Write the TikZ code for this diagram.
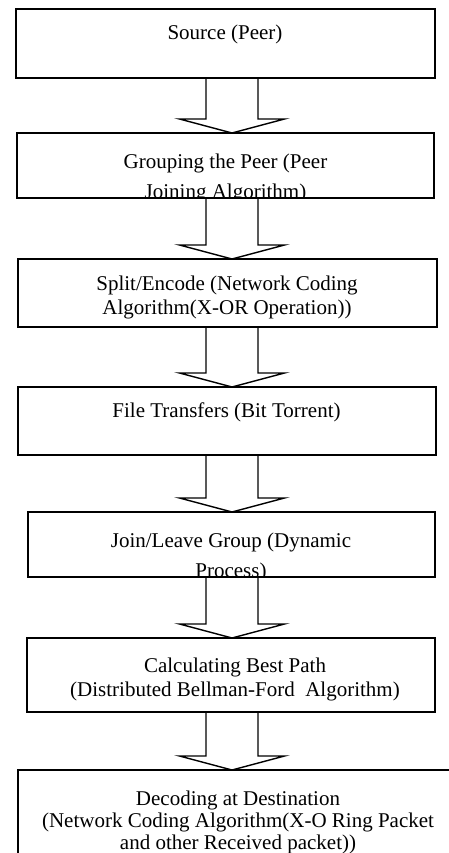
\documentclass[tikz,border=0pt]{standalone}
\usepackage{fontspec}
\setmainfont{Liberation Serif}
\usetikzlibrary{calc}
\newcommand\mlines[1]{\begin{tabular}[t]{@{}c@{}}#1\end{tabular}}
\newcommand\blockarrow[2]{%
  \draw[blk] ($(#1.south -| ax)+(-26,0)$) |- ($(#2.north -| ax)+(-52.5,14)$)
    -- (#2.north -| ax) -- ($(#2.north -| ax)+(52.5,14)$)
    -| ($(#1.south -| ax)+(26,0)$);}
\begin{document}
\begin{tikzpicture}[x=1pt,y=1pt,
  box/.style={draw, line width=1.4pt, inner sep=0pt, outer sep=0pt, anchor=north west},
  lbl/.style={anchor=base, inner sep=0pt, font=\fontsize{21}{#1}\selectfont},
  lbl/.default=25,
  blk/.style={draw, line width=1.4pt, line join=miter}]
\useasboundingbox (0,0) rectangle (449,-853);
\clip (0,0) rectangle (449,-853);
\coordinate (ax) at (232,0);
% boxes
\node[box, minimum width=419pt, minimum height=69pt] (b1) at (16,-9) {};
\node[box, minimum width=417pt, minimum height=65pt] (b2) at (17,-133) {};
\node[box, minimum width=419pt, minimum height=68pt] (b3) at (18,-259) {};
\node[box, minimum width=418pt, minimum height=68pt] (b4) at (18,-387) {};
\node[box, minimum width=407pt, minimum height=65pt] (b5) at (28,-512) {};
\node[box, minimum width=408pt, minimum height=74pt] (b6) at (27,-638) {};
\node[box, minimum width=442pt, minimum height=120pt] (b7) at (18,-770) {};
% texts
\node[lbl] (t1) at (225,-40) {Source (Peer)};
\begin{scope}
  \clip (b2.north west) rectangle (b2.south east);
  \node[lbl=30] (t2) at (225.5,-168) {\mlines{Grouping the Peer (Peer\\ Joining Algorithm)}};
\end{scope}
\node[lbl=24] (t3) at (227,-290) {\mlines{Split/Encode (Network Coding\\ Algorithm(X-OR Operation))}};
\node[lbl] (t4) at (226.5,-417) {File Transfers (Bit Torrent)};
\begin{scope}
  \clip (b5.north west) rectangle (b5.south east);
  \node[lbl=30] (t5) at (231,-547) {\mlines{Join/Leave Group (Dynamic\\ Process)}};
\end{scope}
\node[lbl=24] (t6) at (235,-672) {\mlines{Calculating Best Path\\ (Distributed Bellman-Ford\ \ Algorithm)}};
\node[lbl=22] (t7) at (238,-805) {\mlines{Decoding at Destination\\ (Network Coding Algorithm(X-O Ring Packet\\ and other Received packet))}};
% block arrows
\blockarrow{b1}{b2}
\blockarrow{b2}{b3}
\blockarrow{b3}{b4}
\blockarrow{b4}{b5}
\blockarrow{b5}{b6}
\blockarrow{b6}{b7}
\end{tikzpicture}
\end{document}
